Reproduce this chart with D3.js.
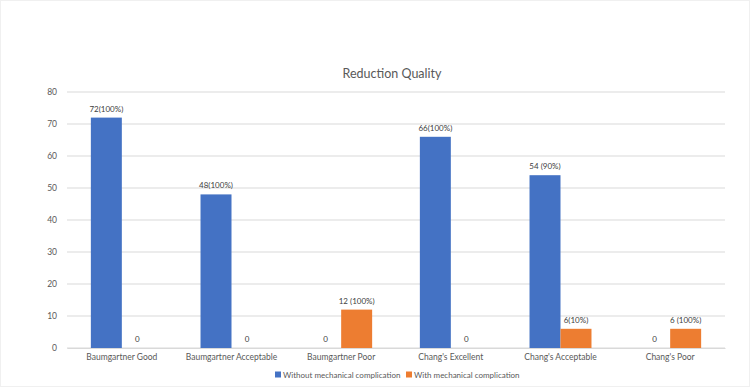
<!DOCTYPE html>
<html>
<head>
<meta charset="utf-8">
<script src="https://cdn.jsdelivr.net/npm/d3@7"></script>
<style>
  body { margin: 0; background: #fff; }
  svg { font-family: Lato, "Open Sans", sans-serif; }
</style>
</head>
<body>
<svg id="chart"></svg>
<script>
const categories = ["Baumgartner Good", "Baumgartner Acceptable", "Baumgartner Poor", "Chang's Excellent", "Chang's Acceptable", "Chang's Poor"];
const seriesNames = ["Without mechanical complication", "With mechanical complication"];
const withoutValues = [72, 48, 0, 66, 54, 0];
const withValues = [0, 0, 12, 0, 6, 6];
const withoutLabels = ["72(100%)", "48(100%)", "0", "66(100%)", "54 (90%)", "0"];
const withLabels = ["0", "0", "12 (100%)", "0", "6(10%)", "6 (100%)"];
const yTicks = [0, 10, 20, 30, 40, 50, 60, 70, 80];
const colors = ["#4472c4", "#ed7d31"];

const w = 750;
const h = 387;
const pLeft = 67, pRight = 725, pTop = 92, pBottom = 348;

const svg = d3.select("#chart").attr("width", w).attr("height", h);

svg.append("rect").attr("x", 0.5).attr("y", 0.5).attr("width", w - 1).attr("height", h - 1)
  .attr("fill", "#fff").attr("stroke", "#f0f0f0");

const xScale = d3.scaleBand().domain(categories).range([pLeft, pRight]);
const sub = d3.scaleBand().domain(seriesNames).range([0, xScale.bandwidth()]).paddingInner(0).paddingOuter(0.77);
const yScale = d3.scaleLinear().domain([0, 80]).range([pBottom, pTop]);

// gridlines
svg.append("g").selectAll("line").data(yTicks).enter().append("line")
  .attr("x1", pLeft).attr("x2", pRight)
  .attr("y1", d => yScale(d)).attr("y2", d => yScale(d))
  .attr("stroke", "#d9d9d9").attr("stroke-width", 1);

// y axis labels
const yAxis = d3.axisLeft(yScale).tickValues(yTicks).tickSize(0).tickPadding(10);
const yg = svg.append("g").attr("transform", `translate(${pLeft},0)`).call(yAxis);
yg.select(".domain").remove();
yg.selectAll("text").attr("fill", "#595959").attr("font-size", 8.5).attr("font-family", "Lato, sans-serif");

// x axis labels
const xAxis = d3.axisBottom(xScale).tickSize(0).tickPadding(6);
const xg = svg.append("g").attr("transform", `translate(0,${pBottom})`).call(xAxis);
xg.select(".domain").attr("stroke", "#d9d9d9");
xg.selectAll("text").attr("fill", "#595959").attr("font-size", 8.5).attr("font-family", "Lato, sans-serif");

const rows = categories.map((c, i) => ({
  cat: c,
  vals: [
    { s: seriesNames[0], v: withoutValues[i], label: withoutLabels[i] },
    { s: seriesNames[1], v: withValues[i], label: withLabels[i] }
  ]
}));

const groups = svg.append("g").selectAll("g").data(rows).enter().append("g")
  .attr("transform", d => `translate(${xScale(d.cat)},0)`);

groups.selectAll("rect").data(d => d.vals).enter().append("rect")
  .attr("x", d => sub(d.s))
  .attr("y", d => yScale(d.v))
  .attr("width", sub.bandwidth())
  .attr("height", d => yScale(0) - yScale(d.v))
  .attr("fill", (d, i) => colors[i]);

groups.selectAll("text").data(d => d.vals).enter().append("text")
  .attr("x", d => sub(d.s) + sub.bandwidth() / 2)
  .attr("y", d => yScale(d.v) - 6)
  .attr("text-anchor", "middle")
  .attr("font-size", 8)
  .attr("fill", "#404040")
  .text(d => d.label);

// title
svg.append("text")
  .attr("x", (pLeft + pRight) / 2 - 4)
  .attr("y", 78)
  .attr("text-anchor", "middle")
  .attr("font-size", 12.5)
  .attr("fill", "#595959")
  .text("Reduction Quality");

// legend
const legendX = [275, 406];
const legend = svg.append("g");
seriesNames.forEach((name, i) => {
  legend.append("rect")
    .attr("x", legendX[i]).attr("y", 371.5)
    .attr("width", 6).attr("height", 6)
    .attr("fill", colors[i]);
  legend.append("text")
    .attr("x", legendX[i] + 8).attr("y", 378)
    .attr("font-size", 8)
    .attr("fill", "#595959")
    .text(name);
});
</script>
</body>
</html>
